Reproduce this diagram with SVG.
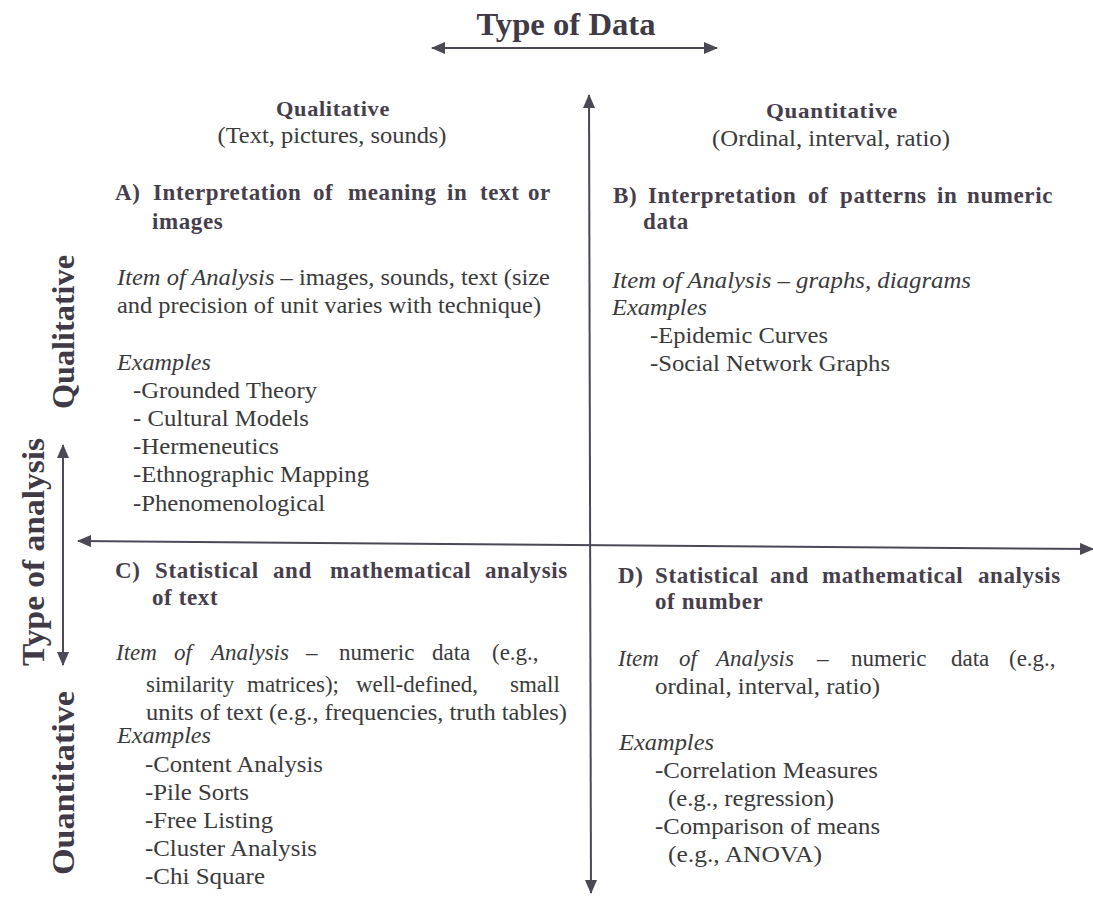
<svg xmlns="http://www.w3.org/2000/svg" width="1093" height="902" viewBox="0 0 1093 902">
<defs>
<marker id="ah" viewBox="0 0 14 12" refX="13" refY="6" markerWidth="14" markerHeight="12" markerUnits="userSpaceOnUse" orient="auto-start-reverse">
<path d="M0,0 L14,6 L0,12 Z" fill="#4d4856"/>
</marker>
<style>
.ax{stroke:#4d4856;stroke-width:2;fill:none;marker-start:url(#ah);marker-end:url(#ah)}
.t{font-family:"Liberation Serif","Times New Roman",serif;font-size:23px;fill:#3a3a3c}
.b{font-family:"Liberation Serif","Times New Roman",serif;font-size:23px;font-weight:bold;fill:#463e4c;letter-spacing:0.6px}
.h{font-family:"Liberation Serif","Times New Roman",serif;font-size:32px;font-weight:bold;fill:#3f3a45}
.i{font-style:italic}
</style>
</defs>
<rect width="1093" height="902" fill="#ffffff"/>
<g id="connectors">
<line class="ax" x1="432" y1="48" x2="717" y2="48"/>
<line class="ax" x1="589" y1="95" x2="591" y2="893"/>
<line class="ax" x1="78" y1="541" x2="1093" y2="549"/>
<line class="ax" x1="63" y1="445" x2="63" y2="665"/>
</g>
<g id="axis-labels">
<text class="h" x="566" y="35" text-anchor="middle" textLength="179" lengthAdjust="spacingAndGlyphs">Type of Data</text>
<text class="h" transform="translate(44,552) rotate(-90)" text-anchor="middle" textLength="228" lengthAdjust="spacingAndGlyphs">Type of analysis</text>
<text class="h" transform="translate(74,332) rotate(-90)" text-anchor="middle" textLength="154" lengthAdjust="spacingAndGlyphs">Qualitative</text>
<text class="h" transform="translate(74,783) rotate(-90)" text-anchor="middle" textLength="184" lengthAdjust="spacingAndGlyphs">Ouantitative</text>
<text class="b" x="333" y="116" text-anchor="middle" textLength="114" lengthAdjust="spacingAndGlyphs" style="font-size:21px">Qualitative</text>
<text class="t" x="332" y="143" text-anchor="middle" textLength="229" lengthAdjust="spacingAndGlyphs">(Text, pictures, sounds)</text>
<text class="b" x="832" y="118" text-anchor="middle" textLength="132" lengthAdjust="spacingAndGlyphs" style="font-size:21px">Quantitative</text>
<text class="t" x="831" y="146" text-anchor="middle" textLength="238" lengthAdjust="spacingAndGlyphs">(Ordinal, interval, ratio)</text>
</g>
<g id="quadrant-a">
<text class="b" y="200"><tspan x="115">A)</tspan><tspan x="153">Interpretation</tspan><tspan x="313">of</tspan><tspan x="348">meaning</tspan><tspan x="447">in</tspan><tspan x="480">text</tspan><tspan x="528">or</tspan></text>
<text class="b" x="152" y="229">images</text>
<text class="t" x="117" y="285" textLength="433" lengthAdjust="spacingAndGlyphs"><tspan class="i">Item of Analysis</tspan> – images, sounds, text (size</text>
<text class="t" x="117" y="313" textLength="424" lengthAdjust="spacingAndGlyphs">and precision of unit varies with technique)</text>
<text class="t i" x="117" y="370" textLength="94" lengthAdjust="spacingAndGlyphs">Examples</text>
<text class="t" x="133" y="398" textLength="184" lengthAdjust="spacingAndGlyphs">-Grounded Theory</text>
<text class="t" x="133" y="426" textLength="176" lengthAdjust="spacingAndGlyphs">- Cultural Models</text>
<text class="t" x="133" y="454" textLength="146" lengthAdjust="spacingAndGlyphs">-Hermeneutics</text>
<text class="t" x="133" y="482" textLength="236" lengthAdjust="spacingAndGlyphs">-Ethnographic Mapping</text>
<text class="t" x="133" y="511" textLength="192" lengthAdjust="spacingAndGlyphs">-Phenomenological</text>
</g>
<g id="quadrant-b">
<text class="b" y="203"><tspan x="613">B)</tspan><tspan x="648">Interpretation</tspan><tspan x="808">of</tspan><tspan x="840">patterns</tspan><tspan x="937">in</tspan><tspan x="967">numeric</tspan></text>
<text class="b" x="643" y="229">data</text>
<text class="t i" x="612" y="288" textLength="359" lengthAdjust="spacingAndGlyphs">Item of Analysis – graphs, diagrams</text>
<text class="t i" x="612" y="315" textLength="95" lengthAdjust="spacingAndGlyphs">Examples</text>
<text class="t" x="650" y="343" textLength="178" lengthAdjust="spacingAndGlyphs">-Epidemic Curves</text>
<text class="t" x="650" y="371" textLength="240" lengthAdjust="spacingAndGlyphs">-Social Network Graphs</text>
</g>
<g id="quadrant-c">
<text class="b" y="578"><tspan x="115">C)</tspan><tspan x="155">Statistical</tspan><tspan x="273">and</tspan><tspan x="330">mathematical</tspan><tspan x="485">analysis</tspan></text>
<text class="b" x="152" y="605">of text</text>
<text class="t" y="660"><tspan class="i" x="116">Item</tspan><tspan class="i" x="174">of</tspan><tspan class="i" x="211">Analysis</tspan><tspan x="306">–</tspan><tspan x="339">numeric</tspan><tspan x="432">data</tspan><tspan x="492">(e.g.,</tspan></text>
<text class="t" y="692"><tspan x="146">similarity</tspan><tspan x="247">matrices);</tspan><tspan x="356">well-defined,</tspan><tspan x="510">small</tspan></text>
<text class="t" x="146" y="720" textLength="421" lengthAdjust="spacingAndGlyphs">units of text (e.g., frequencies, truth tables)</text>
<text class="t i" x="117" y="743" textLength="94" lengthAdjust="spacingAndGlyphs">Examples</text>
<text class="t" x="145" y="772" textLength="178" lengthAdjust="spacingAndGlyphs">-Content Analysis</text>
<text class="t" x="145" y="800" textLength="104" lengthAdjust="spacingAndGlyphs">-Pile Sorts</text>
<text class="t" x="145" y="828" textLength="128" lengthAdjust="spacingAndGlyphs">-Free Listing</text>
<text class="t" x="145" y="856" textLength="172" lengthAdjust="spacingAndGlyphs">-Cluster Analysis</text>
<text class="t" x="145" y="884" textLength="120" lengthAdjust="spacingAndGlyphs">-Chi Square</text>
</g>
<g id="quadrant-d">
<text class="b" y="583"><tspan x="618">D)</tspan><tspan x="655">Statistical</tspan><tspan x="770">and</tspan><tspan x="822">mathematical</tspan><tspan x="978">analysis</tspan></text>
<text class="b" x="655" y="609">of number</text>
<text class="t" y="666"><tspan class="i" x="618">Item</tspan><tspan class="i" x="679">of</tspan><tspan class="i" x="716">Analysis</tspan><tspan x="817">–</tspan><tspan x="851">numeric</tspan><tspan x="951">data</tspan><tspan x="1009">(e.g.,</tspan></text>
<text class="t" x="655" y="694" textLength="225" lengthAdjust="spacingAndGlyphs">ordinal, interval, ratio)</text>
<text class="t i" x="619" y="750" textLength="95" lengthAdjust="spacingAndGlyphs">Examples</text>
<text class="t" x="655" y="778" textLength="223" lengthAdjust="spacingAndGlyphs">-Correlation Measures</text>
<text class="t" x="668" y="806" textLength="166" lengthAdjust="spacingAndGlyphs">(e.g., regression)</text>
<text class="t" x="655" y="834" textLength="225" lengthAdjust="spacingAndGlyphs">-Comparison of means</text>
<text class="t" x="668" y="862" textLength="154" lengthAdjust="spacingAndGlyphs">(e.g., ANOVA)</text>
</g>
</svg>
